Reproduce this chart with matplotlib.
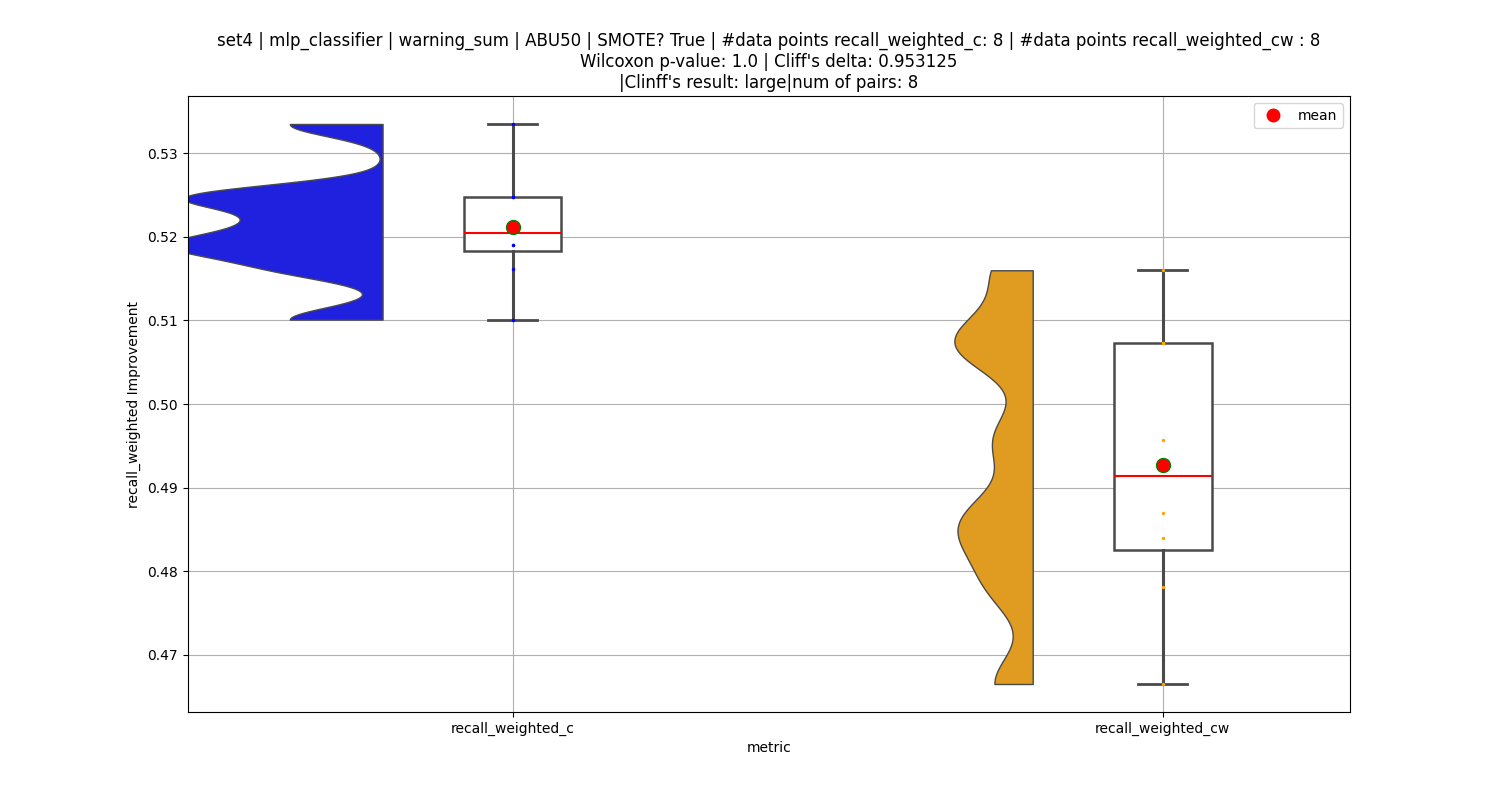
import numpy as np
import matplotlib
matplotlib.use('agg')
import matplotlib.pyplot as plt
from matplotlib.lines import Line2D

# values
metrics = ['recall_weighted_c', 'recall_weighted_cw']
vals_c = [0.5101, 0.5162, 0.5190, 0.5190, 0.5218, 0.5248, 0.5248, 0.5335]
vals_cw = [0.4665, 0.4781, 0.4840, 0.4870, 0.4957, 0.5073, 0.5073, 0.5160]
fill_colors = ['#2020df', '#df9c20']
dot_colors = ['blue', 'orange']

title = ("set4 | mlp_classifier | warning_sum | ABU50 | SMOTE? True | "
         "#data points recall_weighted_c: 8 | #data points recall_weighted_cw : 8\n"
         "Wilcoxon p-value: 1.0 | Cliff's delta: 0.953125\n"
         "|Clinff's result: large|num of pairs: 8")

bw_factor = 0.21
max_half = 0.33      # half-width of the widest violin, in category units
shift = -0.2         # violin sits left of the box


def kde(data, grid, factor):
    data = np.asarray(data)
    h = factor * data.std(ddof=1)
    z = (grid[:, None] - data[None, :]) / h
    return np.exp(-0.5 * z ** 2).sum(axis=1) / (len(data) * h * np.sqrt(2 * np.pi))


fig, ax = plt.subplots(figsize=(15, 8), dpi=100)
ax.grid(True, color='#b0b0b0', linewidth=0.8, zorder=0)
ax.set_axisbelow(True)

groups = [vals_c, vals_cw]
grids, dens = [], []
for g in groups:
    yy = np.linspace(min(g), max(g), 400)
    grids.append(yy)
    dens.append(kde(g, yy, bw_factor))
peak = max(d.max() for d in dens)

for i, g in enumerate(groups):
    edge = i + shift
    w = dens[i] / peak * max_half
    ax.fill_betweenx(grids[i], edge - w, edge, facecolor=fill_colors[i],
                     edgecolor='#4a4a4a', linewidth=1.0, zorder=2)

bp = ax.boxplot(groups, positions=range(len(groups)), widths=0.15, whis=(0, 100),
                patch_artist=True, showfliers=False, manage_ticks=False, zorder=3,
                boxprops=dict(facecolor='white', edgecolor='#4a4a4a', linewidth=1.8),
                whiskerprops=dict(color='#4a4a4a', linewidth=2.2),
                capprops=dict(color='#4a4a4a', linewidth=2.0),
                medianprops=dict(color='red', linewidth=1.5))

for i, g in enumerate(groups):
    ax.scatter(np.full(len(g), i), g, s=6, color=dot_colors[i],
               linewidths=0, zorder=4)
    ax.plot(i, np.mean(g), 'o', color='red', markeredgecolor='green',
            markersize=10, markeredgewidth=1.0, zorder=5)

ax.set_xticks(range(len(metrics)))
ax.set_xticklabels(metrics)
ax.set_xlim(-0.5, 1.288)
ax.set_xlabel('metric')
ax.set_ylabel('recall_weighted Improvement')
ax.set_title(title, fontsize=12)

handle = Line2D([], [], linestyle='none', marker='o', color='red', markersize=9)
ax.legend([handle], ['mean'], loc='upper right')

plt.savefig('out.png')
